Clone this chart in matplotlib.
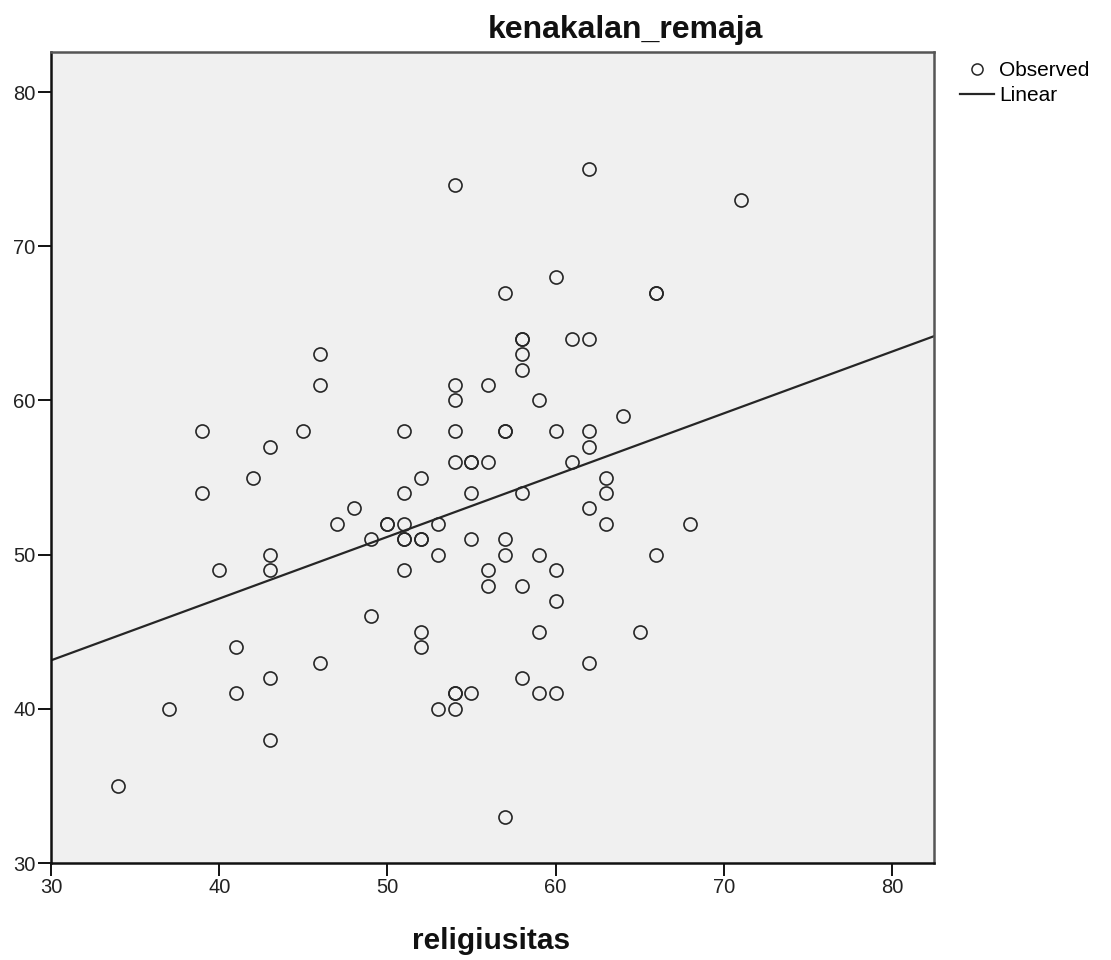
import numpy as np
import matplotlib
matplotlib.use('Agg')
import matplotlib.pyplot as plt
from matplotlib.lines import Line2D

plt.rcParams['font.family'] = ['Liberation Sans', 'DejaVu Sans']

# religiusitas (x) vs kenakalan_remaja (y)
religiusitas = [
    54, 62, 71, 60, 57, 66, 66, 58, 58, 61, 62, 46, 58, 58, 46, 54, 56,
    54, 59, 64, 39, 45, 51, 54, 57, 57, 60, 62, 43, 62, 54, 55, 55, 56,
    61, 42, 52, 63, 39, 51, 55, 58, 63, 48, 62, 47, 50, 50, 51, 53, 63,
    68, 49, 51, 51, 52, 52, 55, 57, 43, 53, 57, 59, 66, 40, 43, 51, 56,
    60, 56, 58, 60, 49, 52, 59, 65, 41, 52, 46, 62, 43, 58, 41, 54, 54,
    55, 59, 60, 37, 53, 54, 43, 34, 57,
]
kenakalan_remaja = [
    74, 75, 73, 68, 67, 67, 67, 64, 64, 64, 64, 63, 63, 62, 61, 61, 61,
    60, 60, 59, 58, 58, 58, 58, 58, 58, 58, 58, 57, 57, 56, 56, 56, 56,
    56, 55, 55, 55, 54, 54, 54, 54, 54, 53, 53, 52, 52, 52, 52, 52, 52,
    52, 51, 51, 51, 51, 51, 51, 51, 50, 50, 50, 50, 50, 49, 49, 49, 49,
    49, 48, 48, 47, 46, 45, 45, 45, 44, 44, 43, 43, 42, 42, 41, 41, 41,
    41, 41, 41, 40, 40, 40, 38, 35, 33,
]

x_ticks = [30, 40, 50, 60, 70, 80]
y_ticks = [30, 40, 50, 60, 70, 80]
x_lim = (30, 82.5)
y_lim = (30, 82.6)

x = np.array(religiusitas, dtype=float)
y = np.array(kenakalan_remaja, dtype=float)
slope, intercept = np.polyfit(x, y, 1)

fig = plt.figure(figsize=(11.11, 9.6), dpi=100)
ax = fig.add_axes([0.0459, 0.101, 0.7948, 0.8448])
ax.set_facecolor('#f0f0f0')

ink = '#262626'
ax.plot(x, y, linestyle='none', marker='o', markersize=9.4,
        markerfacecolor='none', markeredgecolor=ink, markeredgewidth=1.2,
        zorder=3)
fit_x = np.array(x_lim)
ax.plot(fit_x, intercept + slope * fit_x, color=ink, linewidth=1.6, zorder=2)

ax.set_xlim(*x_lim)
ax.set_ylim(*y_lim)
ax.set_xticks(x_ticks)
ax.set_yticks(y_ticks)
ax.tick_params(direction='out', length=9.5, width=1.4, color='#111111',
               labelsize=14.5, labelcolor='#222222', pad=1.5)

for side in ('left', 'bottom'):
    ax.spines[side].set_color('#111111')
    ax.spines[side].set_linewidth(1.8)
for side in ('top', 'right'):
    ax.spines[side].set_color('#555555')
    ax.spines[side].set_linewidth(1.8)

fig.text(0.5626, 0.969, 'kenakalan_remaja', ha='center', va='center',
         fontsize=23, fontweight='bold', color='#111111')
fig.text(0.442, 0.020, 'religiusitas', ha='center', va='center',
         fontsize=21.5, fontweight='bold', color='#111111')

handles = [
    Line2D([], [], linestyle='none', marker='o', markersize=8,
           markerfacecolor='none', markeredgecolor=ink, markeredgewidth=1.1),
    Line2D([], [], color=ink, linewidth=1.6),
]
fig.legend(handles, ['Observed', 'Linear'], loc='upper left',
           bbox_to_anchor=(0.857, 0.945), frameon=False, fontsize=15,
           handlelength=1.6, handletextpad=0.25, labelspacing=0.3,
           borderaxespad=0)

fig.savefig('out.png', dpi=100)
